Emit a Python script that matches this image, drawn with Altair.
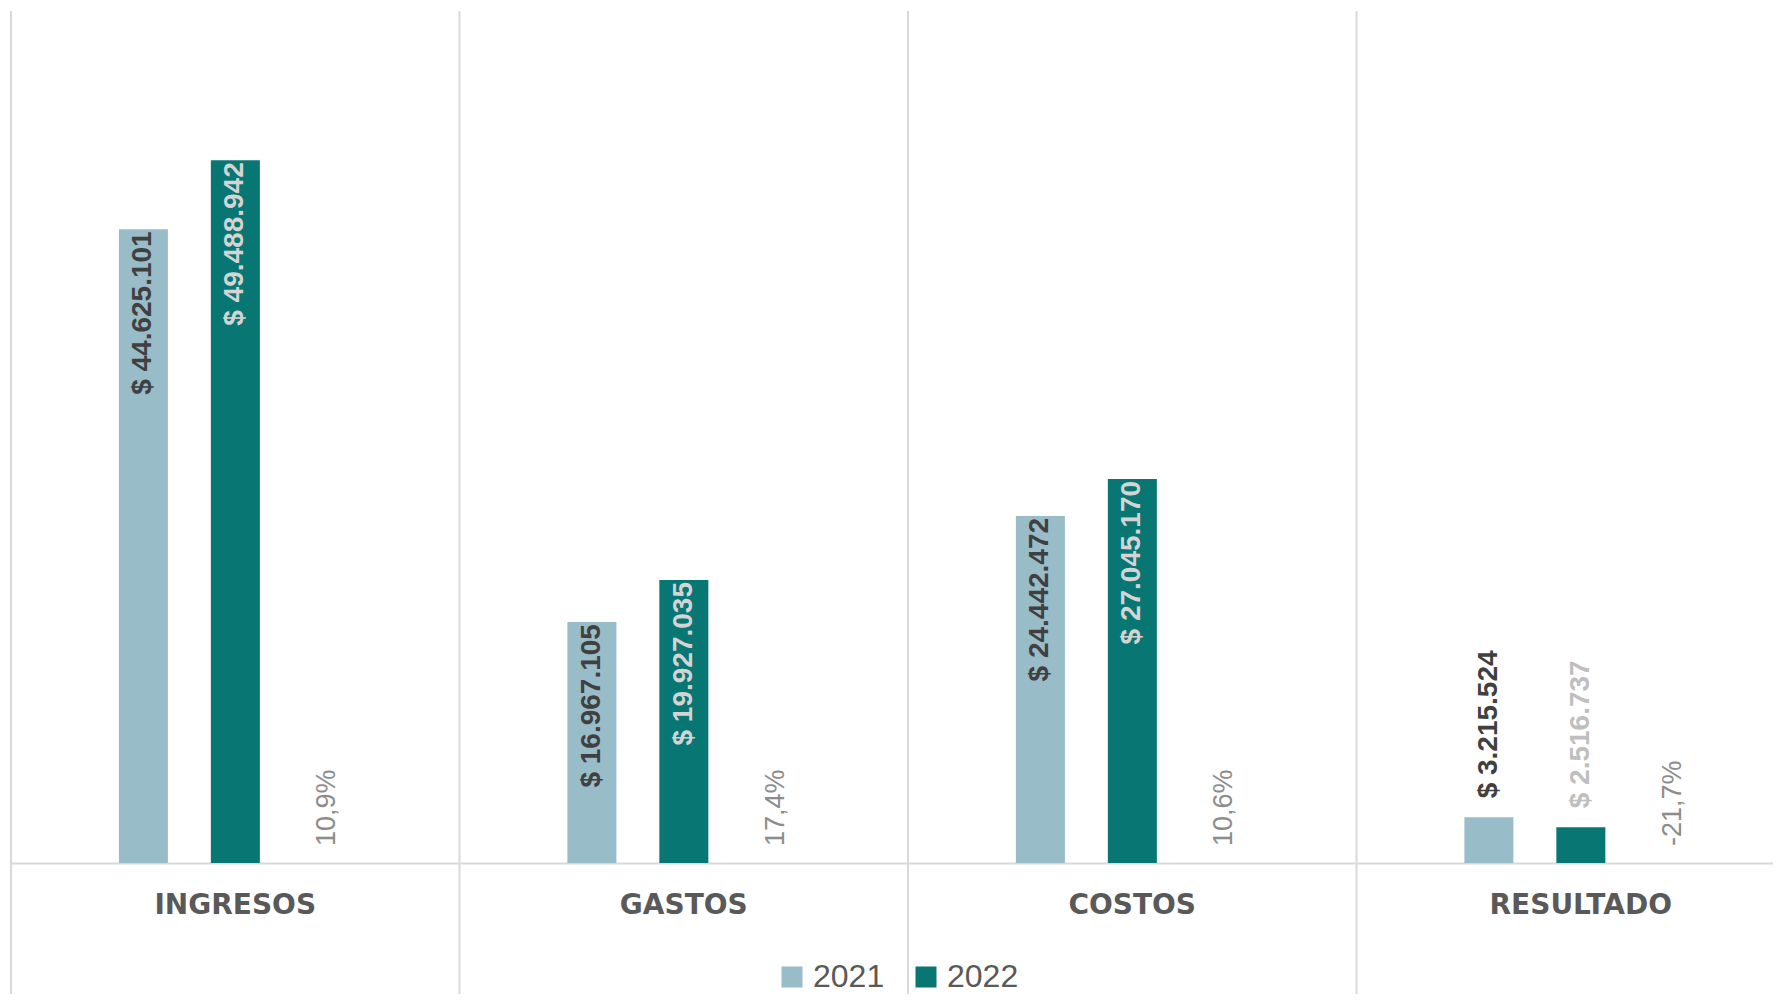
import altair as alt
import pandas as pd

categories = ["INGRESOS", "GASTOS", "COSTOS", "RESULTADO"]
years = ["2021", "2022"]
values_2021 = [44625101, 16967105, 24442472, 3215524]
values_2022 = [49488942, 19927035, 27045170, 2516737]
variation_pct = [10.9, 17.4, 10.6, -21.7]
bar_colors = ["#98BCC8", "#087773"]

rows = []
for c, v1, v2 in zip(categories, values_2021, values_2022):
    for yr, v in (("2021", v1), ("2022", v2)):
        rows.append({"cat": c, "year": yr, "value": v,
                     "label": "$ " + f"{v:,}".replace(",", ".")})
bars_df = pd.DataFrame(rows)
pct_df = pd.DataFrame({
    "cat": categories,
    "year": ["pct"] * len(categories),
    "label": [f"{p:.1f}%".replace(".", ",") for p in variation_pct],
})
sep_df = pd.DataFrame({"cat": categories})

FONT = "Liberation Sans"
GRID = "#d9d9d9"

x_scale = alt.Scale(domain=categories, range=[0, 1794], paddingInner=0, paddingOuter=0)
xo_scale = alt.Scale(domain=["2021", "2022", "pct"], range=[107.9, 340.8], paddingInner=0.467, paddingOuter=0)
y_scale = alt.Scale(domain=[0, 60000000])

x_axis = alt.Axis(
    title=None, labelAngle=0, labelFont="DejaVu Sans", labelFontWeight="bold", labelFontSize=28,
    labelColor="#595959", labelPadding=28, ticks=False, domain=True, domainColor=GRID,
    domainWidth=2, grid=False, labelOverlap=False, labelBound=False, labelFlush=False,
    labelBaseline="top", labelLimit=0,
)

X = alt.X("cat:N", scale=x_scale, axis=x_axis)
XO = alt.XOffset("year:N", scale=xo_scale)
Y = alt.Y("value:Q", scale=y_scale, axis=None)

separators = alt.Chart(sep_df).mark_rule(color=GRID, strokeWidth=2).encode(
    x=alt.X("cat:N", scale=x_scale, axis=x_axis, bandPosition=0),
    y=alt.value(0),
    y2=alt.value(983),
)

bars = alt.Chart(bars_df).mark_bar().encode(
    x=X,
    xOffset=XO,
    y=Y,
    color=alt.Color(
        "year:N",
        scale=alt.Scale(domain=years, range=bar_colors),
        legend=alt.Legend(
            orient="none", legendX=765, legendY=950, direction="horizontal", title=None,
            symbolType="square", symbolSize=441, symbolStrokeWidth=0, labelFont=FONT,
            labelFontSize=32, labelColor="#595959", labelOffset=5, columnPadding=25,
            padding=0,
        ),
    ),
)

inside_labels = alt.Chart(bars_df).transform_filter(
    alt.datum.value > 10000000
).mark_text(
    angle=270, align="right", baseline="middle", dx=-2, font=FONT, fontSize=28,
    fontWeight="bold",
).encode(
    x=X, xOffset=XO, y=Y, text="label:N",
    color=alt.condition(alt.datum.year == "2021", alt.value("#404040"), alt.value("#d4d4d4")),
)

outside_labels = alt.Chart(bars_df).transform_filter(
    alt.datum.value <= 10000000
).mark_text(
    angle=270, align="left", baseline="middle", dx=19, font=FONT, fontSize=28,
    fontWeight="bold",
).encode(
    x=X, xOffset=XO, y=Y, text="label:N",
    color=alt.condition(alt.datum.year == "2021", alt.value("#404040"), alt.value("#bfbfbf")),
)

pct_labels = alt.Chart(pct_df).mark_text(
    angle=270, align="left", baseline="middle", dx=17, font=FONT, fontSize=27,
    color="#8c8c8c",
).encode(
    x=X, xOffset=XO, y=alt.YDatum(0, scale=y_scale, axis=None), text="label:N",
)

chart = alt.layer(separators, bars, inside_labels, outside_labels, pct_labels).properties(
    width=1762,
    height=852,
    autosize=alt.AutoSizeParams(type="none"),
    padding={"left": 3, "top": 3, "right": 0, "bottom": 131},
    background="white",
).configure_view(stroke=None)

chart.save("out.html", embed_options={"renderer": "svg", "actions": False})
